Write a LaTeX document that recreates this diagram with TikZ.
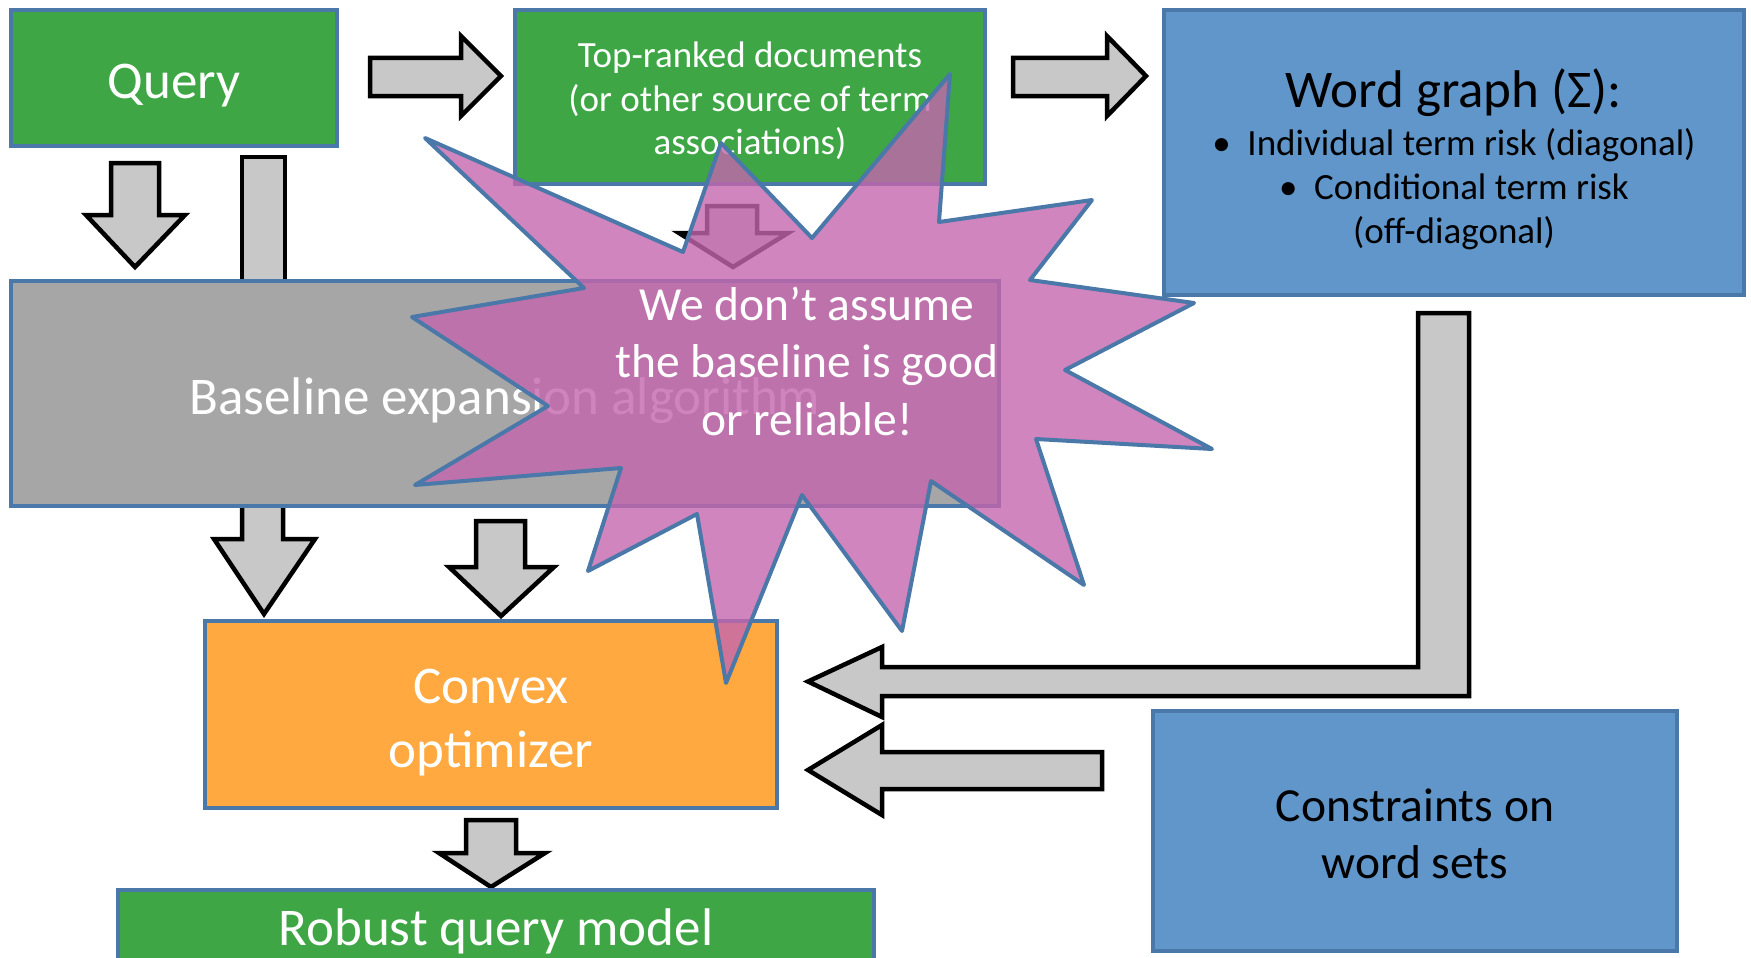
\documentclass[tikz,border=0pt]{standalone}
\usepackage{fontspec}
\setmainfont{Carlito}
\definecolor{qgreen}{RGB}{63,166,70}
\definecolor{boxline}{RGB}{74,120,168}
\definecolor{wblue}{RGB}{96,150,201}
\definecolor{qorange}{RGB}{255,169,64}
\definecolor{qgray}{RGB}{166,166,166}
\definecolor{arrowgray}{RGB}{200,200,200}
\definecolor{starpink}{RGB}{196,102,174}
\newcommand{\tb}{\rule{0pt}{1.05em}}
\newcommand{\bb}{\rule[-0.27em]{0pt}{0.27em}}
\newcommand{\fs}[2]{\fontsize{#1}{#2}\selectfont}
\begin{document}
\begin{tikzpicture}[x=1pt,y=-1pt,
  box/.style={draw=boxline, line width=4pt, inner sep=0pt, outer sep=0pt, align=center},
  blockarrow/.style={draw=black, line width=4.5pt, fill=arrowgray, line join=miter},
  starshape/.style={draw=boxline, line width=4pt, fill=starpink, fill opacity=0.8, draw opacity=1, line join=round},
  startext/.style={inner sep=0pt, align=center, text=white, font=\fs{47.5}{57.5}}]
\path[use as bounding box, clip] (0,0) rectangle (1751,958);

% block arrows (drawn first, behind boxes)
\draw[blockarrow] (370,58) -- (461,58) -- (461,36) -- (501,76) -- (461,116) -- (461,96) -- (370,96) -- cycle;
\draw[blockarrow] (1013,58) -- (1107,58) -- (1107,36) -- (1146,76) -- (1107,116) -- (1107,96) -- (1013,96) -- cycle;
\draw[blockarrow] (111,163) -- (159,163) -- (159,215) -- (185,215) -- (135,267) -- (86,215) -- (111,215) -- cycle;
\draw[blockarrow] (242,157) rectangle (285,295);
\draw[blockarrow] (242,495) -- (283,495) -- (283,539) -- (315,539) -- (264,614) -- (214,539) -- (242,539) -- cycle;
\draw[blockarrow] (476,521) -- (525,521) -- (525,567) -- (554,567) -- (501,616) -- (449,567) -- (476,567) -- cycle;
\draw[blockarrow] (466,820) -- (516,820) -- (516,853) -- (545,853) -- (491,887) -- (439,853) -- (466,853) -- cycle;
\draw[blockarrow] (707,206) -- (757,206) -- (757,233) -- (788,233) -- (733,267) -- (679,233) -- (707,233) -- cycle;
\draw[blockarrow] (1418,313) -- (1469,313) -- (1469,696) -- (882,696) -- (882,717) -- (808,681.5) -- (882,647) -- (882,667) -- (1418,667) -- cycle;
\draw[blockarrow] (1102,752) -- (1102,789) -- (882,789) -- (882,815) -- (808,770) -- (882,725) -- (882,752) -- cycle;

% boxes
\node[box, fill=qgreen, text=white, minimum width=326, minimum height=136, font=\fs{53}{64}] (query) at (174,78) {\tb Query\bb};
\node[box, fill=qgreen, text=white, minimum width=470, minimum height=174, font=\fs{37}{43.5}] (topranked) at (750,97) {\tb Top-ranked documents\\(or other source of term\\associations)\bb};
\node[box, fill=wblue, text=black, minimum width=580, minimum height=285, font=\fs{37}{44}] (wordgraph) at (1454,152.5) {{\fs{53}{44}\tb Word graph (Σ):}\\[4pt]•\hspace{0.45em}Individual term risk (diagonal)\\•\hspace{0.45em}Conditional term risk\\(off-diagonal)\bb};
\node[box, fill=qgray, text=white, minimum width=988, minimum height=225, font=\fs{53}{64}] (baseline) at (505,393.5) {\tb Baseline expansion algorithm\bb};
\node[box, fill=qorange, text=white, minimum width=572, minimum height=187, font=\fs{53}{64}] (convex) at (491,714.5) {\tb Convex\\optimizer\bb};
\node[box, fill=qgreen, text=white, minimum width=756, minimum height=0pt, anchor=north, font=\fs{53}{64}] (robust) at (496,890) {\tb Robust query model\rule[-60pt]{0pt}{60pt}};
\node[box, fill=wblue, text=black, minimum width=524, minimum height=240, font=\fs{47.5}{57}] (constraints) at (1415,831) {\tb Constraints on\\word sets\bb};

% explosion star (semi-transparent, over everything)
\draw[starshape] (950,74) -- (939,222) -- (1092,200) -- (1030,280) -- (1194,303) -- (1065,370)
  -- (1212,449) -- (1036,439) -- (1084,585) -- (931,481) -- (902,631) -- (802,495)
  -- (726,683) -- (697,514) -- (588,571) -- (621,468) -- (415,485) -- (548,406)
  -- (412,317) -- (584,288) -- (425,138) -- (683,252) -- (721,143) -- (812,238) -- cycle;
\node[startext] (starnote) at (807,359) {\tb We don’t assume\\the baseline is good\\or reliable!\bb};
\end{tikzpicture}
\end{document}
